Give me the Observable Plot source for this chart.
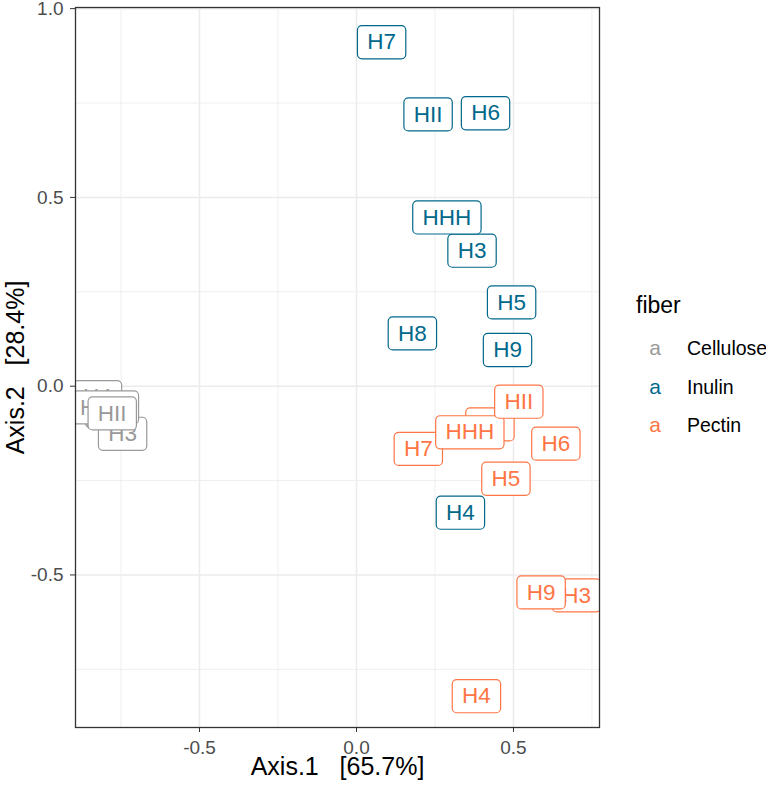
<!DOCTYPE html>
<html><head><meta charset="utf-8">
<script src="https://cdn.jsdelivr.net/npm/d3@7"></script>
<script src="https://cdn.jsdelivr.net/npm/@observablehq/plot@0.6"></script>
<style>
html,body{margin:0;padding:0;background:#fff;}
#wrap{position:relative;width:766px;height:788px;font-family:"Liberation Sans",Arial,sans-serif;}
#wrap svg text{white-space:pre;}
#legend{position:absolute;left:600px;top:270px;}
</style></head><body><div id="wrap"></div>
<script>
// ---- data ----
const samples = ["H3","H4","H5","H6","H7","H8","H9","HHH","HII"];
const fibers = ["Cellulose","Inulin","Pectin"];
const fiberColors = ["#999999","#00688B","#FF7545"];
const celluloseAx1 = [-0.745,-0.825,-0.785,-0.780,-0.783,-0.786,-0.781,-0.803,-0.778];
const celluloseAx2 = [-0.120,-0.023,-0.058,-0.062,-0.057,-0.060,-0.063,-0.050,-0.066];
const inulinAx1 = [0.368,0.331,0.494,0.411,0.080,0.178,0.481,0.288,0.228];
const inulinAx2 = [0.365,-0.329,0.228,0.729,0.917,0.146,0.102,0.453,0.726];
const pectinAx1 = [0.701,0.382,0.476,0.635,0.197,0.425,0.588,0.361,0.517];
const pectinAx2 = [-0.548,-0.815,-0.239,-0.146,-0.160,-0.095,-0.540,-0.116,-0.035];
const xTitle = "Axis.1   [65.7%]";
const yTitle = "Axis.2   [28.4%]";
const legendTitle = "fiber";
const xTicks = [-0.5, 0, 0.5];
const yTicks = [-0.5, 0, 0.5, 1.0];
const xMinor = [-0.75, -0.25, 0.25, 0.75];
const yMinor = [-0.75, -0.25, 0.25, 0.75];
const xDomain = [-0.895, 0.774];
const yDomain = [-0.904, 1.003];

const rows = [];
[[celluloseAx1, celluloseAx2],[inulinAx1, inulinAx2],[pectinAx1, pectinAx2]].forEach(([a1,a2],g) =>
  samples.forEach((s,i) => rows.push({fiber: fibers[g], sample: s, ax1: a1[i], ax2: a2[i]})));

const FONT = '"Liberation Sans", Arial, sans-serif';
const LFS = 22.5, PADX = 9.8, PADY = 8.5, RAD = 4.5;
const fmt = d => d.toFixed(1);
const colorOf = new Map(fibers.map((f,i)=>[f, fiberColors[i]]));

const chart = Plot.plot({
  width: 766, height: 788,
  marginLeft: 75, marginRight: 167, marginTop: 7, marginBottom: 61,
  style: {fontFamily: FONT, fontSize: "19px", background: "#fff", color: "#4D4D4D"},
  x: {domain: xDomain},
  y: {domain: yDomain},
  color: {domain: fibers, range: fiberColors},
  marks: [
    Plot.ruleX(xMinor, {stroke: "#EBEBEB", strokeWidth: 0.8}),
    Plot.ruleY(yMinor, {stroke: "#EBEBEB", strokeWidth: 0.8}),
    Plot.ruleX(xTicks, {stroke: "#EBEBEB", strokeWidth: 1.5}),
    Plot.ruleY(yTicks, {stroke: "#EBEBEB", strokeWidth: 1.5}),
    Plot.text(rows, {x: "ax1", y: "ax2", text: "sample", fill: "fiber", fontSize: LFS, dy: 2.3, clip: true}),
    Plot.frame({stroke: "#333333", strokeWidth: 1.3}),
    Plot.axisX({ticks: xTicks, tickFormat: fmt, tickSize: 5, tickPadding: 8, label: null, color: "#4D4D4D", stroke: "#333333"}),
    Plot.axisY({ticks: yTicks, tickFormat: fmt, tickSize: 5, tickPadding: 7, label: null, color: "#4D4D4D", stroke: "#333333"}),
    Plot.text([xTitle], {frameAnchor: "bottom", dy: 47.3, fontSize: 25, fill: "#000", text: d => d}),
    Plot.text([yTitle], {frameAnchor: "left", textAnchor: "middle", dx: -60, rotate: -90, fontSize: 25, fill: "#000", text: d => d})
  ]
});
const wrap = document.getElementById("wrap");
wrap.append(chart);

// label boxes (geom_label style) behind each text, positioned with Plot's scales
const ctx = document.createElement("canvas").getContext("2d");
ctx.font = `${LFS}px ${FONT}`;
const sx = chart.scale("x"), sy = chart.scale("y");
let lg = null;
for (const g of chart.querySelectorAll("g")) {
  const ts = g.querySelectorAll(":scope > text");
  if (ts.length === rows.length && ts[0].textContent === rows[0].sample) { lg = g; break; }
}
if (lg) {
  const texts = Array.from(lg.querySelectorAll(":scope > text"));
  texts.forEach((t, i) => {
    const d = rows[i];
    const cx = sx.apply(d.ax1), cy = sy.apply(d.ax2);
    const w = ctx.measureText(d.sample).width + 2 * PADX;
    const h = 0.716 * LFS + 2 * PADY;
    const r = document.createElementNS("http://www.w3.org/2000/svg", "rect");
    r.setAttribute("x", cx - w / 2);
    r.setAttribute("y", cy - h / 2);
    r.setAttribute("width", w);
    r.setAttribute("height", h);
    r.setAttribute("rx", RAD);
    r.setAttribute("fill", "#fff");
    r.setAttribute("stroke", colorOf.get(d.fiber));
    r.setAttribute("stroke-width", 1.2);
    lg.insertBefore(r, t);
  });
}

// legend
const leg = d3.create("svg").attr("id", "legend").attr("width", 166).attr("height", 180)
  .style("font-family", FONT);
leg.append("text").attr("x", 36).attr("y", 43).attr("font-size", 23).attr("fill", "#000").text(legendTitle);
fibers.forEach((f, i) => {
  const by = 85 + i * 38.5;
  leg.append("text").attr("x", 55).attr("y", by).attr("text-anchor", "middle").attr("font-size", 21).attr("fill", fiberColors[i]).text("a");
  leg.append("text").attr("x", 87).attr("y", by).attr("font-size", 19.5).attr("fill", "#000").text(f);
});
wrap.append(leg.node());
</script></body></html>
